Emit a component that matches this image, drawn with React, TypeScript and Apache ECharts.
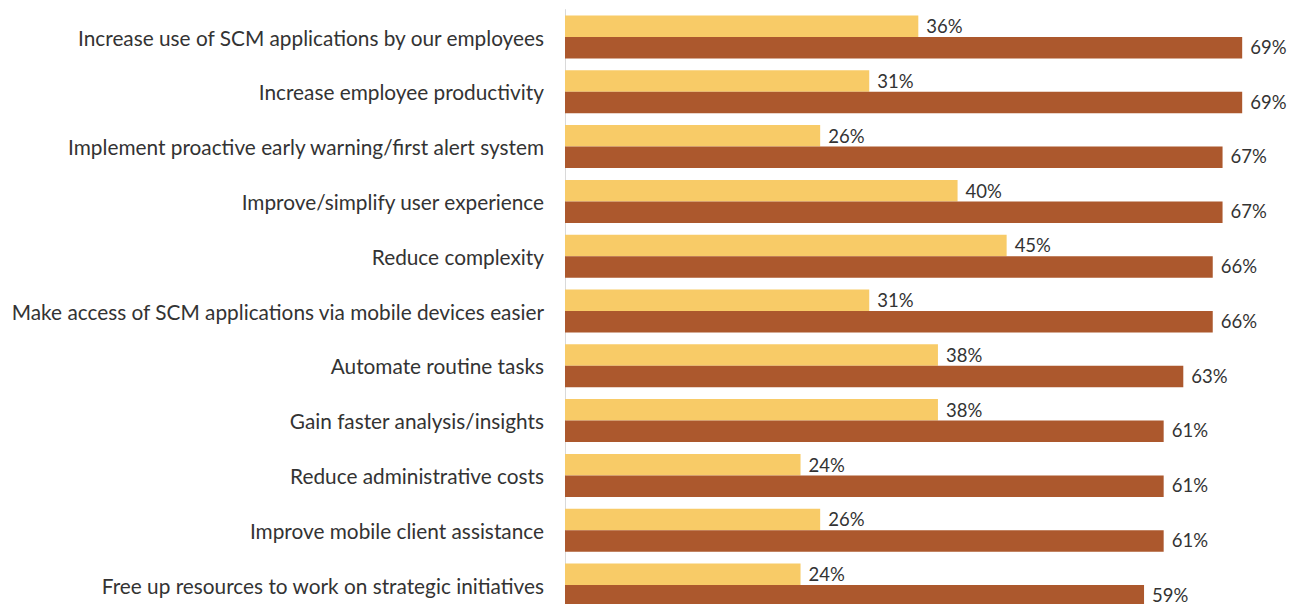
import React, { useEffect, useRef } from "react";
import * as echarts from "echarts";

const categories = [
  "Increase use of SCM applications by our employees",
  "Increase employee productivity",
  "Implement proactive early warning/first alert system",
  "Improve/simplify user experience",
  "Reduce complexity",
  "Make access of SCM applications via mobile devices easier",
  "Automate routine tasks",
  "Gain faster analysis/insights",
  "Reduce administrative costs",
  "Improve mobile client assistance",
  "Free up resources to work on strategic initiatives",
];
const seriesA = [36, 31, 26, 40, 45, 31, 38, 38, 24, 26, 24];
const seriesB = [69, 69, 67, 67, 66, 66, 63, 61, 61, 61, 59];

const FONT = "Lato, 'Noto Sans', sans-serif";

export default function App() {
  const ref = useRef<HTMLDivElement>(null);
  useEffect(() => {
    document.body.style.margin = "0";
    document.body.style.overflow = "hidden";
    document.documentElement.style.overflow = "hidden";
    const chart = echarts.init(ref.current!, null, { renderer: "svg" });
    const label = {
      show: true,
      position: "right",
      distance: 8,
      fontSize: 18.5,
      fontFamily: FONT,
      color: "#333333",
      formatter: (p: any) => p.value + "%",
    };
    chart.setOption({
      animation: false,
      grid: { left: 565, right: 52, top: 9.6, height: 602.8 },
      xAxis: {
        type: "value",
        min: 0,
        max: 70,
        show: false,
        splitLine: { show: false },
      },
      yAxis: {
        type: "category",
        data: categories,
        inverse: true,
        axisLine: { show: true, lineStyle: { color: "#d9d9d9", width: 1 } },
        axisTick: { show: false },
        axisLabel: {
          margin: 21,
          fontSize: 20.8,
          fontFamily: FONT,
          color: "#333333",
        },
      },
      series: [
        {
          type: "bar",
          data: seriesA,
          barWidth: 21.5,
          barGap: "0%",
          itemStyle: { color: "#F8CB67" },
          label,
        },
        {
          type: "bar",
          data: seriesB,
          barWidth: 21.5,
          barGap: "0%",
          itemStyle: { color: "#AC582D" },
          label: { ...label, offset: [0, -1] },
        },
      ],
    });
    return () => chart.dispose();
  }, []);
  return <div ref={ref} style={{ width: 1304, height: 620 }} />;
}
